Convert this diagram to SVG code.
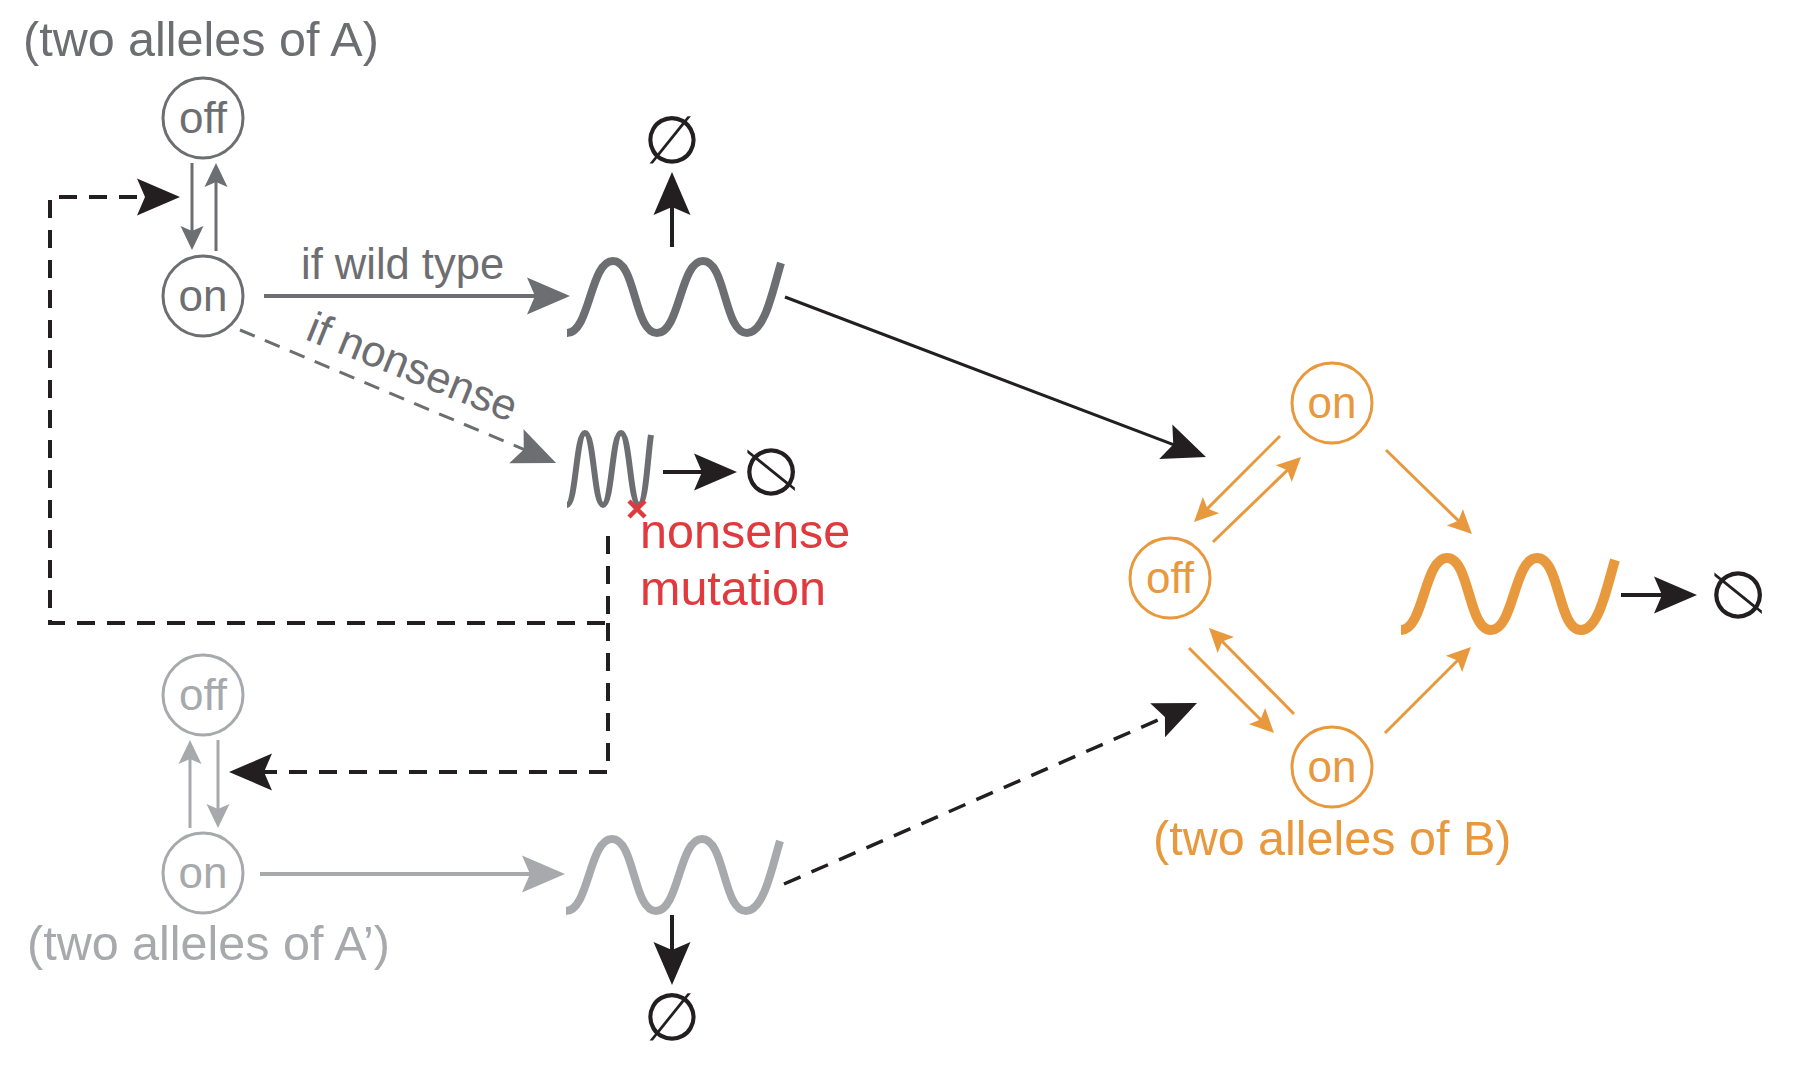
<svg xmlns="http://www.w3.org/2000/svg" width="1800" height="1076" viewBox="0 0 1800 1076">
<style>
  text { font-family: "Liberation Sans", Arial, sans-serif; }
  .lbl { font-size: 48.5px; }
  .st { font-size: 44px; text-anchor: middle; }
  .lbl2 { font-size: 43.5px; }
  .gy { fill: #6d6e71; }
  .lg { fill: #a7a9ac; }
  .or { fill: #e9993d; }
  .rd { fill: #e0393e; }
  .circ { fill: none; stroke-width: 3; }
  .cgy { stroke: #6d6e71; }
  .clg { stroke: #a7a9ac; }
  .cor { stroke: #e9993d; }
  .wave { fill: none; stroke-linecap: butt; }
  .empty { font-family: "DejaVu Sans", sans-serif; font-size: 66px; fill: #231f20; text-anchor: middle; dominant-baseline: central; }
  .ln { fill: none; }
  .bk { stroke: #231f20; }
  .dash { stroke-dasharray: 18 12; }
</style>
<defs>
  <marker id="mBk" markerUnits="userSpaceOnUse" viewBox="-46 -20 50 40" markerWidth="50" markerHeight="40" refX="-25" refY="0" orient="auto"><path d="M0,0 L-43,-18.5 L-35,0 L-43,18.5 Z" fill="#231f20"/></marker>
  <marker id="mGy" markerUnits="userSpaceOnUse" viewBox="-46 -20 50 40" markerWidth="50" markerHeight="40" refX="-25" refY="0" orient="auto"><path d="M0,0 L-43,-18.5 L-35,0 L-43,18.5 Z" fill="#6d6e71"/></marker>
  <marker id="mLg" markerUnits="userSpaceOnUse" viewBox="-46 -20 50 40" markerWidth="50" markerHeight="40" refX="-25" refY="0" orient="auto"><path d="M0,0 L-43,-18.5 L-35,0 L-43,18.5 Z" fill="#a7a9ac"/></marker>
  <marker id="sGy" markerUnits="userSpaceOnUse" viewBox="-26 -13 28 26" markerWidth="28" markerHeight="26" refX="-12" refY="0" orient="auto"><path d="M0,0 L-24,-11.5 L-19,0 L-24,11.5 Z" fill="#6d6e71"/></marker>
  <marker id="sLg" markerUnits="userSpaceOnUse" viewBox="-26 -13 28 26" markerWidth="28" markerHeight="26" refX="-12" refY="0" orient="auto"><path d="M0,0 L-24,-11.5 L-19,0 L-24,11.5 Z" fill="#a7a9ac"/></marker>
  <marker id="sOr" markerUnits="userSpaceOnUse" viewBox="-26 -13 28 26" markerWidth="28" markerHeight="26" refX="-12" refY="0" orient="auto"><path d="M0,0 L-24,-11.5 L-19,0 L-24,11.5 Z" fill="#e9993d"/></marker>
  <path id="wv" d="M0,0 C23,0 23,-72 46,-72 C69,-72 67,0 90,0 C113,0 113,-72 136,-72 C159,-72 157,0 180,0 C198,0 206,-44 214,-70"/>
</defs>

<g id="connectors">
  <!-- A: off/on toggles -->
  <path class="ln" d="M192,163 V238" stroke="#6d6e71" stroke-width="3" marker-end="url(#sGy)"/>
  <path class="ln" d="M216,251 V175" stroke="#6d6e71" stroke-width="3" marker-end="url(#sGy)"/>
  <!-- A: wild type -->
  <path class="ln" d="M264,296 H545" stroke="#6d6e71" stroke-width="4" marker-end="url(#mGy)"/>
  <!-- A: nonsense -->
  <path class="ln" d="M240,330 L533,453.3" stroke="#6d6e71" stroke-width="3" stroke-dasharray="16 11" marker-end="url(#mGy)"/>
  <!-- A mRNA decay -->
  <path class="ln bk" d="M672,247 V197" stroke-width="4" marker-end="url(#mBk)"/>
  <!-- nonsense mRNA decay -->
  <path class="ln bk" d="M663,472 H712" stroke-width="4" marker-end="url(#mBk)"/>
  <!-- A mRNA to B -->
  <path class="ln bk" d="M785,297 L1182.6,448.1" stroke-width="3" marker-end="url(#mBk)"/>
  <!-- feedback (dashed) -->
  <path class="ln bk dash" d="M608,536 V623 H50 V197 H155" stroke-width="4" marker-end="url(#mBk)"/>
  <path class="ln bk dash" d="M608,623 V772 H254" stroke-width="4" marker-end="url(#mBk)"/>
  <!-- A' toggles -->
  <path class="ln" d="M190,828 V752" stroke="#a7a9ac" stroke-width="3" marker-end="url(#sLg)"/>
  <path class="ln" d="M218,740 V816" stroke="#a7a9ac" stroke-width="3" marker-end="url(#sLg)"/>
  <!-- A' transcription -->
  <path class="ln" d="M260,874 H540" stroke="#a7a9ac" stroke-width="4" marker-end="url(#mLg)"/>
  <!-- A' mRNA decay -->
  <path class="ln bk" d="M672,915 V960" stroke-width="4" marker-end="url(#mBk)"/>
  <!-- A' mRNA to B (dashed) -->
  <path class="ln bk" d="M784,884 L1174.1,713" stroke-width="3.5" stroke-dasharray="18 12" marker-end="url(#mBk)"/>
  <!-- B toggles -->
  <path class="ln" d="M1213,542 L1292.4,465.3" stroke="#e9993d" stroke-width="3" marker-end="url(#sOr)"/>
  <path class="ln" d="M1280,436 L1202.5,513.5" stroke="#e9993d" stroke-width="3" marker-end="url(#sOr)"/>
  <path class="ln" d="M1386,450 L1463.4,525.6" stroke="#e9993d" stroke-width="3" marker-end="url(#sOr)"/>
  <path class="ln" d="M1189,648 L1265.5,724.5" stroke="#e9993d" stroke-width="3" marker-end="url(#sOr)"/>
  <path class="ln" d="M1294,714 L1217.4,636.5" stroke="#e9993d" stroke-width="3" marker-end="url(#sOr)"/>
  <path class="ln" d="M1385,733 L1462.5,655.5" stroke="#e9993d" stroke-width="3" marker-end="url(#sOr)"/>
  <!-- B mRNA decay -->
  <path class="ln bk" d="M1621,595 H1672" stroke-width="4" marker-end="url(#mBk)"/>
</g>

<g id="geneA">
  <text class="lbl gy" x="23" y="56">(two alleles of A)</text>
  <g id="A-off"><circle class="circ cgy" cx="203" cy="118" r="40"/><text class="st gy" x="203" y="133">off</text></g>
  <g id="A-on"><circle class="circ cgy" cx="203" cy="296" r="40"/><text class="st gy" x="203" y="311">on</text></g>
  <text class="lbl2 gy" x="301" y="279">if wild type</text>
  <text class="lbl2 gy" x="304" y="339" transform="rotate(22 304 339)">if nonsense</text>
</g>

<g id="mRNA-A">
  <use href="#wv" class="wave" stroke="#6d6e71" stroke-width="8" transform="translate(567,333)"/>
</g>
<g id="empty-A"><text class="empty" x="672" y="140">∅</text></g>

<g id="mRNA-nonsense">
  <path class="wave" d="M567,505 C576,505 576,433 585,433 C594,433 594,505 603,505 C612,505 612,433 621,433 C630,433 630,505 639,505 C646,505 648,452 651,435" stroke="#6d6e71" stroke-width="6"/>
  <path d="M629,501 L645,517 M645,501 L629,517" stroke="#e0393e" stroke-width="4.5" fill="none"/>
</g>
<g id="empty-nonsense"><text class="empty" x="770" y="472" transform="rotate(90 770 472)">∅</text></g>
<g id="nonsense-label">
  <text class="lbl rd" x="640" y="548">nonsense</text>
  <text class="lbl rd" x="640" y="605">mutation</text>
</g>

<g id="geneAprime">
  <g id="Ap-off"><circle class="circ clg" cx="203" cy="695" r="40"/><text class="st lg" x="203" y="710">off</text></g>
  <g id="Ap-on"><circle class="circ clg" cx="203" cy="873" r="40"/><text class="st lg" x="203" y="888">on</text></g>
  <text class="lbl lg" x="27" y="960">(two alleles of A’)</text>
</g>
<g id="mRNA-Aprime">
  <use href="#wv" class="wave" stroke="#a7a9ac" stroke-width="8" transform="translate(566,911)"/>
</g>
<g id="empty-Aprime"><text class="empty" x="672" y="1017">∅</text></g>

<g id="geneB">
  <g id="B-on1"><circle class="circ cor" cx="1332" cy="403" r="40"/><text class="st or" x="1332" y="418">on</text></g>
  <g id="B-off"><circle class="circ cor" cx="1170" cy="578" r="40"/><text class="st or" x="1170" y="593">off</text></g>
  <g id="B-on2"><circle class="circ cor" cx="1332" cy="767" r="40"/><text class="st or" x="1332" y="782">on</text></g>
  <text class="lbl or" x="1153" y="855">(two alleles of B)</text>
</g>
<g id="mRNA-B">
  <use href="#wv" class="wave" stroke="#e9993d" stroke-width="10" transform="translate(1401,630)"/>
</g>
<g id="empty-B"><text class="empty" x="1737" y="595" transform="rotate(90 1737 595)">∅</text></g>
</svg>
